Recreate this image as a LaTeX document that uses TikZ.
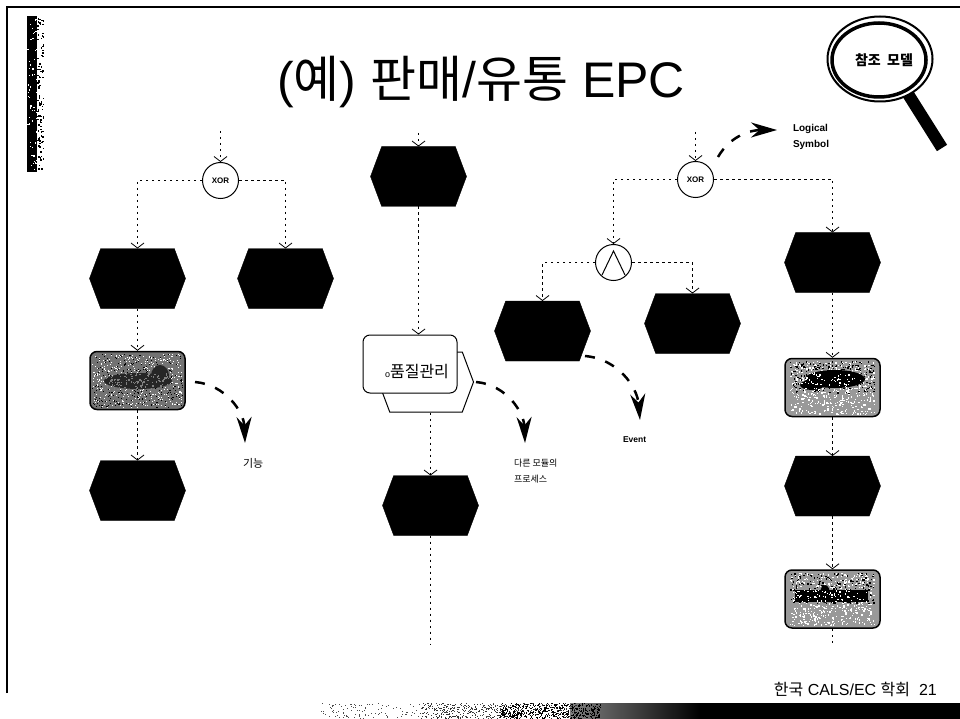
\documentclass[tikz,border=0pt]{standalone}
\usepackage{fontspec}
\setmainfont{Liberation Sans}
\newfontfamily\kr{Noto Sans CJK KR}
\usetikzlibrary{arrows.meta,shapes.symbols,shapes.geometric}
\newcommand{\speck}[7]{% x y w h count size colour
  \foreach \i in {1,...,#5}{
    \pgfmathsetmacro{\px}{#1+rnd*#3}
    \pgfmathsetmacro{\py}{#2+rnd*#4}
    \fill[#7] (\px,\py) rectangle ++(#6,#6);
  }}
\tikzset{
  x=1pt,y=-1pt,
  hexa/.style={signal,signal to=east and west,signal pointer angle=139,fill=black,draw=black,line width=.4pt,
    minimum width=96pt,minimum height=60pt,inner sep=0pt,outer sep=0pt},
  func/.style={rectangle,rounded corners=7pt,draw=black,line width=1.5pt,minimum width=95pt,minimum height=58pt,inner sep=0pt},
  gate/.style={circle,draw=black,line width=1pt,fill=white,minimum size=36pt,inner sep=0pt},
  flow/.style={line width=1.8pt,dash pattern=on 2.5pt off 3.5pt,-{Straight Barb[width=13pt,length=5pt,line width=.8pt]}},
  tail/.style={line width=1.8pt,dash pattern=on 2.5pt off 3.5pt},
  note/.style={-{Stealth[length=26pt,width=15pt]},line width=2.5pt,dash pattern=on 10pt off 11pt},
  lab/.style={inner sep=0pt,outer sep=0pt,align=left,anchor=west},
}
\begin{document}
\begin{tikzpicture}
\useasboundingbox (0,0) rectangle (960,719);
\fill[white] (0,0) rectangle (960,719);
\pgfmathsetseed{4242}
% frame
\coordinate (fa) at (7,693); \coordinate (fb) at (7,7); \coordinate (fc) at (960,7);
\draw[line width=1.5pt] (fa) -- (fb) -- (fc);
% left stripe
\fill[black] (27,16) rectangle (37,172);
\speck{37}{18}{6}{152}{110}{1.5}{black}
\speck{27}{18}{10}{152}{60}{1.2}{white}
% bottom band
\fill[black] (690,703) rectangle (960,719);
\shade[left color=black!50,right color=black] (570,703) rectangle (700,719);
\speck{320}{703}{190}{15}{190}{1}{black!70}
\speck{420}{703}{160}{15}{420}{1}{black!80}
\speck{500}{703}{100}{15}{420}{1.2}{black}
% title
\node[inner sep=0pt] (title) at (481,82) {\fontsize{50pt}{54pt}\selectfont (\kr 예\rmfamily) \kr 판매\rmfamily/\kr 유통\rmfamily{} EPC};
% magnifier
\coordinate (ha) at (908,94); \coordinate (hb) at (942,148);
\draw[line width=12pt] (ha) -- (hb);
\node[ellipse,draw=black,fill=white,line width=2pt,minimum width=105pt,minimum height=85pt,inner sep=0pt] (lens) at (880,59) {};
\draw[line width=3.5pt] (879,60) ellipse [x radius=47pt,y radius=37pt];
\node[font=\kr\bfseries,inner sep=0pt] (lenst) at (884,60) {\fontsize{14pt}{16pt}\selectfont 참조\ \ 모델};
% hexagons
\node[hexa] (h1) at (137.5,278.5) {};
\node[hexa] (h2) at (285.5,278.5) {};
\node[hexa] (h3) at (418.5,176.5) {};
\node[hexa] (h4) at (542.5,331) {};
\node[hexa] (h5) at (692.5,323.5) {};
\node[hexa] (h6) at (832.5,262.5) {};
\node[hexa] (h7) at (137.5,490.5) {};
\node[hexa] (h8) at (430.5,505.5) {};
\node[hexa] (h9) at (832.5,486) {};
% gates
\node[gate] (x1) at (220.5,180.5) {\fontsize{8pt}{9pt}\selectfont\bfseries XOR};
\node[gate] (x2) at (695.5,179.5) {\fontsize{8pt}{9pt}\selectfont\bfseries XOR};
\node[gate] (an) at (613.5,262.5) {};
\coordinate (ca) at (602,275); \coordinate (cb) at (613.5,251); \coordinate (cc) at (625,275);
\draw[line width=1pt] (ca) -- (cb) -- (cc);
% functions
\node[func,fill=black!55] (f1) at (137.5,380.5) {};
\speck{92}{354}{90}{53}{420}{1}{white}
\speck{92}{354}{90}{53}{300}{1}{black}
\fill[black!85] (138,381) ellipse [x radius=34pt,y radius=8pt];
\fill[black!85] (160,376) ellipse [x radius=9pt,y radius=11pt];
\speck{106}{373}{64}{16}{130}{1.3}{black!50}
\node[func,fill=black!40] (f3) at (832.5,387.5) {};
\speck{790}{361}{84}{53}{450}{1.3}{white}
\speck{790}{361}{84}{32}{220}{1.3}{black}
\fill[black] (835,379) ellipse [x radius=30pt,y radius=9pt];
\fill[black] (812,385) ellipse [x radius=12pt,y radius=5pt];
\speck{800}{372}{66}{18}{70}{1.2}{white}
\node[func,fill=black!40] (f4) at (832.5,599) {};
\speck{790}{573}{84}{52}{430}{1.3}{white}
\speck{790}{573}{84}{30}{200}{1.3}{black}
\fill[black] (825,594) ellipse [x radius=5pt,y radius=9pt];
\fill[black] (795,590) rectangle (868,602);
\speck{795}{590}{73}{12}{70}{1.3}{white}
% sub-process
\node[signal,signal to=east and west,signal pointer angle=139,draw=black,fill=white,line width=1pt,minimum width=95pt,minimum height=60pt,inner sep=0pt] (pb) at (426,382) {};
\node[func,line width=1pt,fill=white,minimum height=58pt,minimum width=94pt] (pf) at (410,364) {};
\node[inner sep=0pt,font=\kr] (pt) at (417,372) {\fontsize{16pt}{18pt}\selectfont {\rmfamily\fontsize{9pt}{10pt}\selectfont o}품질관리};
% free ends
\coordinate (s1) at (220.5,131); \coordinate (s2) at (418.5,133); \coordinate (s3) at (695.5,132);
\coordinate (e1) at (430.5,645); \coordinate (e2) at (832.5,645);
% connectors
\draw[flow] (s1) -- (x1.north);
\draw[flow] (x1.west) -| (h1.north);
\draw[flow] (x1.east) -| (h2.north);
\draw[flow] (h1.south) -- (f1.north);
\draw[flow] (f1.south) -- (h7.north);
\draw[flow] (s2) -- (h3.north);
\draw[flow] (h3.south) -- (h3.south |- pf.north);
\draw[flow] (pb.south -| h8.north) -- (h8.north);
\draw[tail] (h8.south) -- (e1);
\draw[flow] (s3) -- (x2.north);
\draw[flow] (x2.west) -| (an.north);
\draw[flow] (x2.east) -| (h6.north);
\draw[flow] (an.west) -| (h4.north);
\draw[flow] (an.east) -| (h5.north);
\draw[flow] (h6.south) -- (f3.north);
\draw[flow] (f3.south) -- (h9.north);
\draw[flow] (h9.south) -- (f4.north);
\draw[tail] (f4.south) -- (e2);
% labels
\node[lab,font={\fontsize{10pt}{16pt}\selectfont\bfseries}] (ls) at (793,137) {Logical\\Symbol};
\node[lab,font={\kr\fontsize{11pt}{12pt}\selectfont}] (lf) at (243,463) {기능};
\node[lab,font={\kr\fontsize{9pt}{16pt}\selectfont}] (lp) at (514,471) {다른 모듈의\\프로세스};
\node[lab,font={\fontsize{8.5pt}{10pt}\selectfont\bfseries}] (le) at (623,440) {Event};
% callout arrows
\coordinate (na) at (718,157); \coordinate (nb) at (777,130);
\coordinate (nc) at (195,382); \coordinate (nd) at (245,443);
\coordinate (ne) at (476,382); \coordinate (nf) at (525,443);
\coordinate (ng) at (585,356); \coordinate (nh) at (640,420);
\draw[note] (na) to[out=60,in=180] (nb);
\draw[note] (nc) to[out=-5,in=92] (nd);
\draw[note] (ne) to[out=-5,in=92] (nf);
\draw[note] (ng) to[out=-5,in=95] (nh);
% footer
\node[inner sep=0pt,anchor=east] (ft) at (937,689) {\fontsize{16pt}{18pt}\selectfont{\kr 한국} CALS/EC {\kr 학회}\ \ 21};
\end{tikzpicture}
\end{document}
